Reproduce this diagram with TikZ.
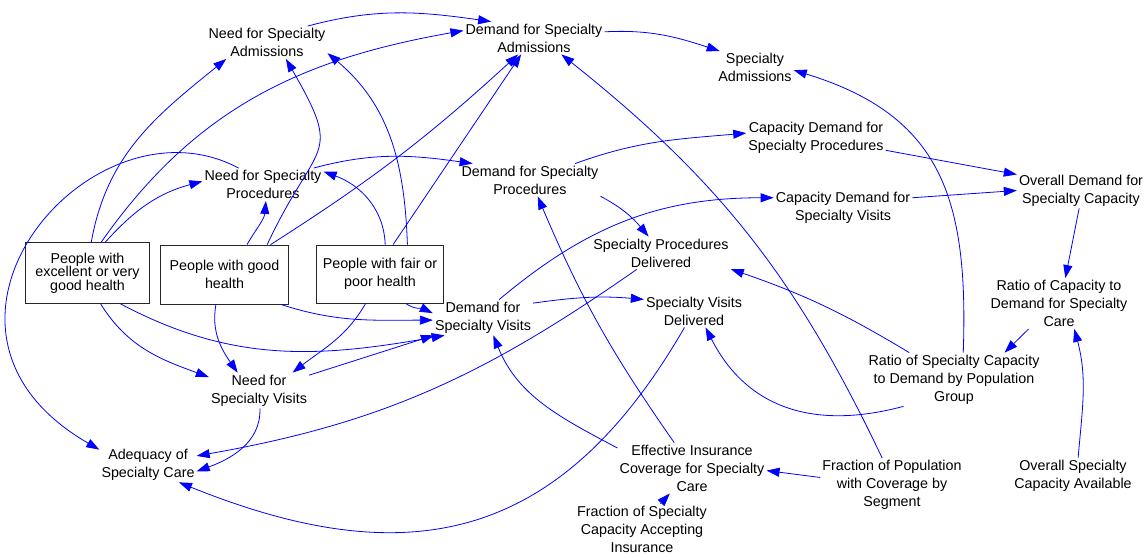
\documentclass[tikz,border=0pt]{standalone}
\usepackage{fontspec}
\setmainfont{Liberation Sans}
\usetikzlibrary{arrows.meta}
\begin{document}
\begin{tikzpicture}[x=1pt,y=-1pt,
  lbl/.style={font=\fontsize{14.3}{18}\selectfont, align=center, inner sep=2pt, text=black},
  box/.style={lbl, draw=black!85, line width=0.8pt},
  arr/.style={draw=blue, line width=0.8pt, -{Triangle[length=13pt,width=9pt]}}]
\useasboundingbox (0,0) rectangle (1146,556);
% variables
\node[lbl] (NSA) at (267,42.5) {Need for Specialty\\Admissions};
\node[lbl] (DSA) at (534,38) {Demand for Specialty\\Admissions};
\node[lbl] (SA) at (755,67.5) {Specialty\\Admissions};
\node[lbl] (NSP) at (263,184.5) {Need for Specialty\\Procedures};
\node[lbl] (DSP) at (530,180) {Demand for Specialty\\Procedures};
\node[lbl] (CDSP) at (816,138) {Capacity Demand for\\Specialty Procedures};
\node[lbl] (CDSV) at (843,207.5) {Capacity Demand for\\Specialty Visits};
\node[lbl] (ODSC) at (1081,190.5) {Overall Demand for\\Specialty Capacity};
\node[lbl] (SPD) at (661,253) {Specialty Procedures\\Delivered};
\node[lbl] (DSV) at (483,317.5) {Demand for\\Specialty Visits};
\node[lbl] (SVD) at (694,311) {Specialty Visits\\Delivered};
\node[lbl] (RCDSC) at (1059,303.5) {Ratio of Capacity to\\Demand for Specialty\\Care};
\node[lbl] (RSCDPG) at (954,379.5) {Ratio of Specialty Capacity\\to Demand by Population\\Group};
\node[lbl] (NSV) at (259,390.5) {Need for\\Specialty Visits};
\node[lbl] (ASC) at (148,464.5) {Adequacy of\\Specialty Care};
\node[lbl] (EICSC) at (692,468) {Effective Insurance\\Coverage for Specialty\\Care};
\node[lbl] (FPCS) at (892,485) {Fraction of Population\\with Coverage by\\Segment};
\node[lbl] (OSCA) at (1073,475.5) {Overall Specialty\\Capacity Available};
\node[lbl] (FSCAI) at (642,529) {Fraction of Specialty\\Capacity Accepting\\Insurance};
\node[box, font=\fontsize{14.3}{13.5}\selectfont, minimum width=124pt, minimum height=61pt] (PE) at (87.5,273) {People with\\excellent or very\\good health};
\node[box, minimum width=128pt, minimum height=59pt] (PG) at (224.5,274.5) {People with good\\health};
\node[box, minimum width=126.5pt, minimum height=58pt] (PF) at (380,274) {People with fair or\\poor health};
% connectors
\draw[arr] (NSA.22) to[out=15,in=172] (DSA.159);
\draw[arr] (PE.83) to[out=80,in=219] (NSA.202);
\draw[arr] (PE.66) to[out=55,in=190] (DSA.174);
\draw[arr] (PE.60) to[out=48,in=195] (NSP.177);
\draw[arr] (NSP.146) to[out=152,in=150,out looseness=1.36,in looseness=1.98] (ASC.163);
\draw[arr] (PG.35) to[out=65,in=300,looseness=1.6] (NSA.-41);
\draw[arr] (PG.33) to[bend right=5] (DSA.-134);
\draw[arr] (PG.53) to[out=60,in=265] (NSP.-80);
\draw[arr] (PF.47) to[out=92,in=320] (NSA.-10);
\draw[arr] (PF.66) -- (DSA.-128);
\draw[arr] (PF.80) to[out=92,in=340] (NSP.12);
\draw[arr] (NSP.18) to[out=15,in=172] (DSP.164);
\draw[arr] (DSA.5) to[out=3,in=162] (SA.155);
\draw[arr] (DSP.20) to[out=20,in=185] (CDSP.176);
\draw[arr] (DSP.-13) to[out=-28,in=130] (SPD.127);
\draw[arr] (CDSP.-10) -- (ODSC.166);
\draw[arr] (CDSV.8) -- (ODSC.180);
\draw[arr] (DSV.48) to[out=40,in=180] (CDSV.172);
\draw[arr] (DSV.16) to[out=8,in=175] (SVD.167);
\draw[arr] (SPD.214) to[out=215,in=10] (ASC.10);
\draw[arr] (SVD.240) to[out=240,in=338,looseness=1.2] (ASC.-30);
\draw[arr] (ODSC.-96) -- (RCDSC.76);
\draw[arr] (RCDSC.220) -- (RSCDPG.28);
\draw[arr] (RSCDPG.71) to[out=88,in=343,looseness=1.2] (SA.-4);
\draw[arr] (RSCDPG.149) to[bend right=6] (SPD.-13);
\draw[arr] (RSCDPG.208) to[out=195,in=297,looseness=1.1] (SVD.-55);
\draw[arr] (OSCA.74) to[out=85,in=285] (RCDSC.-59);
\draw[arr] (FPCS.174) -- (EICSC.-2);
\draw[arr] (FPCS.110) to[bend right=13] (DSA.-31);
\draw[arr] (EICSC.125) to[bend left=6] (DSP.-65);
\draw[arr] (EICSC.165) to[out=152,in=292] (DSV.-60);
\draw[arr] (FSCAI.54) -- (EICSC.-131);
\draw[arr] (PE.-67) to[out=-58,in=160] (NSV.165);
\draw[arr] (PE.-43) to[out=-28,in=190] (DSV.205);
\draw[arr] (PG.-106) to[out=-100,in=125] (NSV.140);
\draw[arr] (PG.-28) to[out=-18,in=180] (DSV.183);
\draw[arr] (PF.-116) to[out=240,in=38] (NSV.28);
\draw[arr] (PF.-49) to[out=-35,in=155] (DSV.175);
\draw[arr] (NSV.17) -- (DSV.200);
\draw[arr] (NSV.-87) to[out=-88,in=20] (ASC.-8);
\end{tikzpicture}
\end{document}
